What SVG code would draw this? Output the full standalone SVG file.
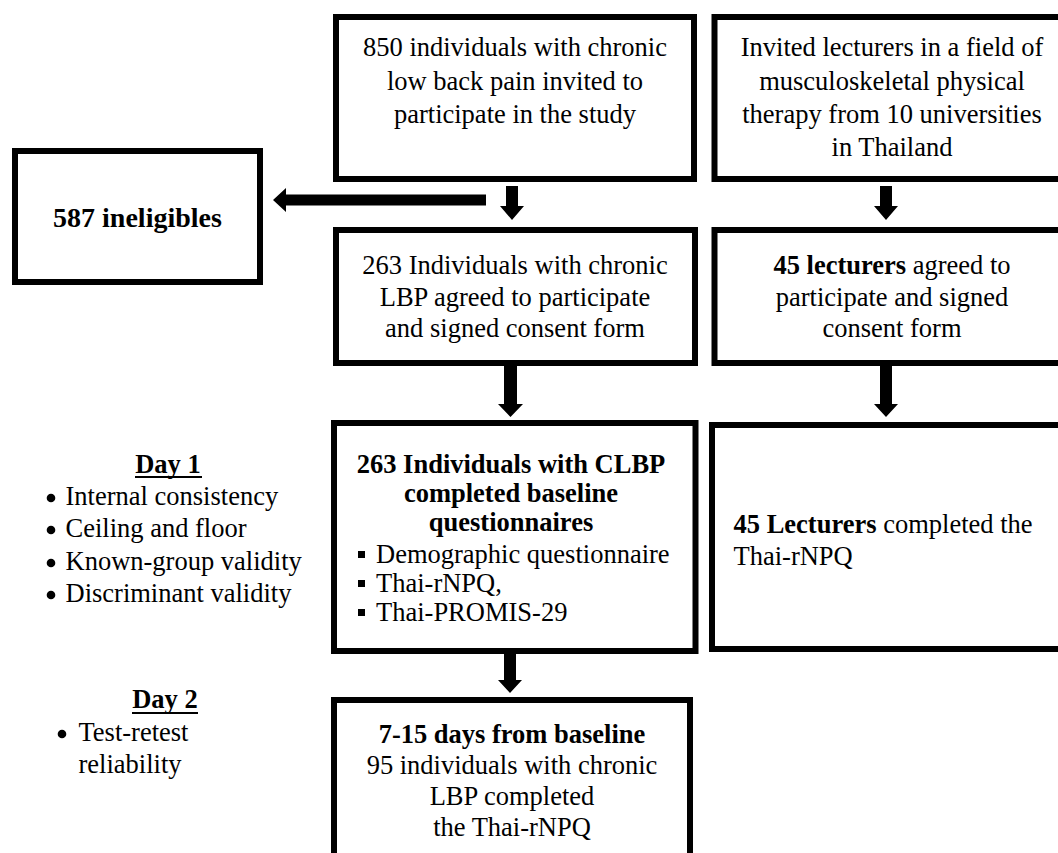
<svg xmlns="http://www.w3.org/2000/svg" width="1058" height="853" viewBox="0 0 1058 853">
  <style>
    .box { fill: #ffffff; stroke: #000000; stroke-width: 6; }
    text { font-family: "Liberation Serif", "Times New Roman", serif; font-size: 26.5px; fill: #000000; }
    .c { text-anchor: middle; }
    .b { font-weight: bold; }
    .big { font-size: 28px; }
    .arrow { fill: #000000; }
    .ul { stroke: #000000; stroke-width: 2; }
  </style>
  <rect width="1058" height="853" fill="#ffffff"/>

  <!-- connectors -->
  <g id="connectors">
    <!-- to ineligibles (left) -->
    <polygon class="arrow" points="486,194.5 286,194.5 286,188 273,200 286,212 286,205.5 486,205.5"/>
    <!-- invited -> agreed (patients) -->
    <polygon class="arrow" points="506,186 518,186 518,206 524,206 512,220 500,206 506,206"/>
    <!-- invited -> agreed (lecturers) -->
    <polygon class="arrow" points="880,186 892,186 892,206 898,206 886,220 874,206 880,206"/>
    <!-- agreed -> baseline (patients) -->
    <polygon class="arrow" points="504,366 517,366 517,404 523,404 510.5,417 498,404 504,404"/>
    <!-- agreed -> completed (lecturers) -->
    <polygon class="arrow" points="880,366 892,366 892,404 898,404 886,417 874,404 880,404"/>
    <!-- baseline -> retest -->
    <polygon class="arrow" points="504,654 516,654 516,680 522,680 510,693 498,680 504,680"/>
  </g>

  <g id="invited-patients">
    <rect class="box" x="336" y="17" width="358" height="162"/>
    <text class="c" x="515" y="56">850 individuals with chronic</text>
    <text class="c" x="515" y="89.5">low back pain invited to</text>
    <text class="c" x="515" y="123">participate in the study</text>
  </g>

  <g id="invited-lecturers">
    <rect class="box" x="714.5" y="17" width="360" height="162"/>
    <text class="c" x="892" y="56">Invited lecturers in a field of</text>
    <text class="c" x="892" y="89.5">musculoskeletal physical</text>
    <text class="c" x="892" y="123">therapy from 10 universities</text>
    <text class="c" x="892" y="156">in Thailand</text>
  </g>

  <g id="ineligibles">
    <rect class="box" x="15" y="151" width="245" height="131"/>
    <text class="c b big" x="137.5" y="227">587 ineligibles</text>
  </g>

  <g id="agreed-patients">
    <rect class="box" x="336" y="230" width="359" height="133"/>
    <text class="c" x="515" y="274">263 Individuals with chronic</text>
    <text class="c" x="515" y="306">LBP agreed to participate</text>
    <text class="c" x="515" y="337">and signed consent form</text>
  </g>

  <g id="agreed-lecturers">
    <rect class="box" x="714.5" y="230" width="360" height="133"/>
    <text class="c" x="892" y="274"><tspan class="b">45 lecturers</tspan> agreed to</text>
    <text class="c" x="892" y="306">participate and signed</text>
    <text class="c" x="892" y="337">consent form</text>
  </g>

  <g id="baseline-patients">
    <rect class="box" x="334" y="423" width="361.5" height="228"/>
    <text class="c b" x="511" y="473">263 Individuals with CLBP</text>
    <text class="c b" x="511" y="502">completed baseline</text>
    <text class="c b" x="511" y="531">questionnaires</text>
    <rect x="358" y="551" width="7" height="7"/>
    <text x="376" y="563">Demographic questionnaire</text>
    <rect x="358" y="580" width="7" height="7"/>
    <text x="376" y="592">Thai-rNPQ,</text>
    <rect x="358" y="609" width="7" height="7"/>
    <text x="376" y="621">Thai-PROMIS-29</text>
  </g>

  <g id="completed-lecturers">
    <rect class="box" x="712" y="425" width="360" height="224"/>
    <text x="733.5" y="533"><tspan class="b">45 Lecturers</tspan> completed the</text>
    <text x="733.5" y="564.5">Thai-rNPQ</text>
  </g>

  <g id="retest-patients">
    <rect class="box" x="334" y="700" width="356" height="200"/>
    <text class="c b" x="512" y="743">7-15 days from baseline</text>
    <text class="c" x="512" y="774">95 individuals with chronic</text>
    <text class="c" x="512" y="805">LBP completed</text>
    <text class="c" x="512" y="836">the Thai-rNPQ</text>
  </g>

  <g id="day1">
    <text class="c b" x="168" y="473">Day 1</text>
    <line class="ul" x1="135" y1="477" x2="202" y2="477"/>
    <circle cx="51" cy="498" r="4.3"/>
    <text x="65.5" y="505">Internal consistency</text>
    <circle cx="51" cy="530" r="4.3"/>
    <text x="65.5" y="537">Ceiling and floor</text>
    <circle cx="51" cy="563" r="4.3"/>
    <text x="65.5" y="570">Known-group validity</text>
    <circle cx="51" cy="595" r="4.3"/>
    <text x="65.5" y="602">Discriminant validity</text>
  </g>

  <g id="day2">
    <text class="c b" x="165" y="708">Day 2</text>
    <line class="ul" x1="132" y1="713" x2="198" y2="713"/>
    <circle cx="62" cy="734" r="4.3"/>
    <text x="78.5" y="741">Test-retest</text>
    <text x="78.5" y="773">reliability</text>
  </g>
</svg>
